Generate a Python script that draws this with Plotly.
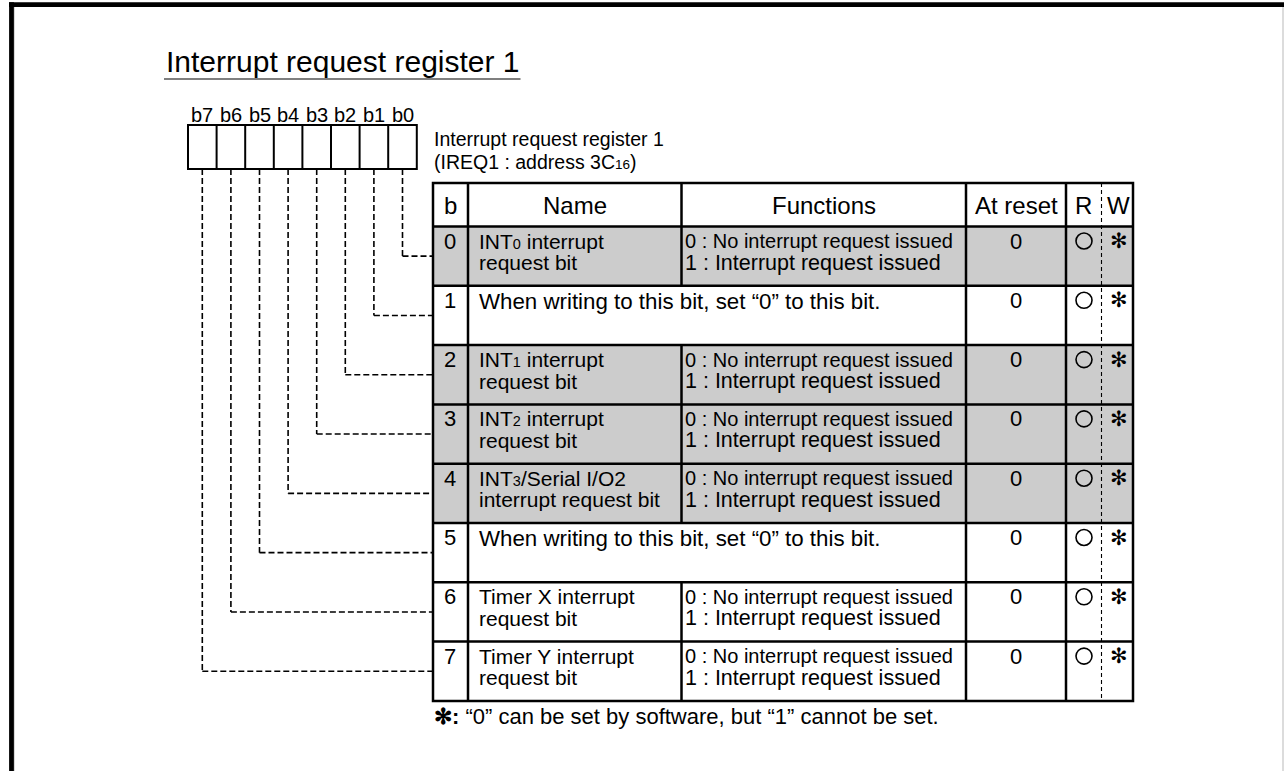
import plotly.graph_objects as go

# ---------------- data ----------------
title_text = "Interrupt request register 1"
bit_labels = ["b7", "b6", "b5", "b4", "b3", "b2", "b1", "b0"]
register_name = "Interrupt request register 1"
register_addr = "(IREQ1 : address 3C<span style='font-size:13.5px'>16</span>)"
headers = ["b", "Name", "Functions", "At reset", "R", "W"]

bits = [0, 1, 2, 3, 4, 5, 6, 7]
name_line1 = [
    "INT<span style='font-size:14.5px'>0</span> interrupt",
    None,
    "INT<span style='font-size:14.5px'>1</span> interrupt",
    "INT<span style='font-size:14.5px'>2</span> interrupt",
    "INT<span style='font-size:14.5px'>3</span>/Serial I/O2",
    None,
    "Timer X interrupt",
    "Timer Y interrupt",
]
name_line2 = ["request bit", None, "request bit", "request bit",
              "interrupt request bit", None, "request bit", "request bit"]
func_line1 = ["0 : No interrupt request issued", None,
              "0 : No interrupt request issued", "0 : No interrupt request issued",
              "0 : No interrupt request issued", None,
              "0 : No interrupt request issued", "0 : No interrupt request issued"]
func_line2 = ["1 : Interrupt request issued", None,
              "1 : Interrupt request issued", "1 : Interrupt request issued",
              "1 : Interrupt request issued", None,
              "1 : Interrupt request issued", "1 : Interrupt request issued"]
span_note = [None, "When writing to this bit, set \u201c0\u201d to this bit.", None, None,
             None, "When writing to this bit, set \u201c0\u201d to this bit.", None, None]
reset_values = ["0", "0", "0", "0", "0", "0", "0", "0"]
readable = [True] * 8
write_mark = ["\u273b"] * 8
shaded = [True, False, True, True, True, False, False, False]
footnote = "<b>\u273b:</b> \u201c0\u201d can be set by software, but \u201c1\u201d cannot be set."

# ---------------- layout geometry ----------------
W, H = 1284, 771
FONT = "Liberation Sans, Arial, Helvetica, sans-serif"
SYM_FONT = "DejaVu Sans"

col = [433, 468, 681.5, 966, 1066, 1133]
w_dash_x = 1101.5
head_top, head_bot = 183, 226.5
row_h = 59.3
row_top = [head_bot + i * row_h for i in range(9)]

box_left, box_top, box_bot = 188, 125, 169
cell_w = 28.6

shapes = []
annotations = []

def line(x0, y0, x1, y1, width=2, dash=None, color="black"):
    d = dict(type="line", x0=x0, y0=y0, x1=x1, y1=y1, xref="x", yref="y",
             line=dict(color=color, width=width))
    if dash:
        d["line"]["dash"] = dash
    shapes.append(d)

def text(x, y, s, size, anchor="left", font=FONT, color="black"):
    annotations.append(dict(x=x, y=y, xref="x", yref="y", text=s, showarrow=False,
                            xanchor=anchor, yanchor="middle",
                            font=dict(family=font, size=size, color=color)))

# page frame
line(9, 4.7, W, 4.7, width=4.8)
line(11.5, 2.3, 11.5, H, width=4.8)
line(14.5, 7, 14.5, H, width=1, color="#d8d8d8")
line(W - 1, 7, W - 1, H, width=1.5, color="#d0d0d0")

# title
text(164, 61, title_text, 30)
line(164, 79, 520.5, 79, width=1.2)

# register box
for i, lab in enumerate(bit_labels):
    cx = box_left + i * cell_w + cell_w / 2
    text(cx, 115, lab, 20, anchor="center")
shapes.append(dict(type="rect", x0=box_left, y0=box_top, x1=box_left + 8 * cell_w, y1=box_bot,
                   xref="x", yref="y", line=dict(color="black", width=2)))
for i in range(1, 8):
    line(box_left + i * cell_w, box_top, box_left + i * cell_w, box_bot, width=2)

text(432, 139, register_name, 19.5)
text(432, 161.5, register_addr, 19.5)

# shaded rows
for i, b in enumerate(bits):
    if shaded[i]:
        shapes.append(dict(type="rect", x0=col[0], y0=row_top[i], x1=col[-1], y1=row_top[i + 1],
                           xref="x", yref="y", fillcolor="#cccccc", line=dict(width=0),
                           layer="below"))

# connectors from each bit cell to its row
for i, b in enumerate(bits):
    cx = box_left + (7 - b) * cell_w + cell_w / 2
    ymid = (row_top[i] + row_top[i + 1]) / 2
    line(cx, box_bot, cx, ymid, width=1.6, dash="6px,3px")
    line(cx, ymid, col[0], ymid, width=1.6, dash="6px,3px")

# table grid
shapes.append(dict(type="rect", x0=col[0], y0=head_top, x1=col[-1], y1=row_top[-1],
                   xref="x", yref="y", line=dict(color="black", width=2.5)))
line(col[0], head_bot, col[-1], head_bot, width=2.5)
for r in range(1, 8):
    line(col[0], row_top[r], col[-1], row_top[r], width=2.5)
for c in (col[1], col[3], col[4]):
    line(c, head_top, c, row_top[-1], width=2.5)
line(col[2], head_top, col[2], head_bot, width=2.5)
for i in range(8):
    if span_note[i] is None:
        line(col[2], row_top[i], col[2], row_top[i + 1], width=2.5)
line(w_dash_x, head_top, w_dash_x, row_top[-1], width=1.1, dash="4px,3px")

# header texts
head_y = (head_top + head_bot) / 2 + 1
text((col[0] + col[1]) / 2, head_y, headers[0], 24, "center")
text((col[1] + col[2]) / 2, head_y, headers[1], 24, "center")
text((col[2] + col[3]) / 2, head_y, headers[2], 24, "center")
text((col[3] + col[4]) / 2 + 0.5, head_y, headers[3], 24, "center")
text(1083, head_y, headers[4], 24, "center")
text(1118, head_y, headers[5], 24, "center")

# rows
for i, b in enumerate(bits):
    top = row_top[i]
    y1 = top + 14.5
    y2 = top + 36
    text((col[0] + col[1]) / 2 - 1, y1, str(b), 22, "center")
    if span_note[i] is not None:
        text(col[1] + 9, y1 + 1, span_note[i], 22.3)
    else:
        text(col[1] + 9, y1, name_line1[i], 21)
        text(col[1] + 9, y2, name_line2[i], 21)
        text(col[2] + 1.5, y1, func_line1[i], 20)
        text(col[2] + 1.5, y2, func_line2[i], 21.5)
    text((col[3] + col[4]) / 2, y1, reset_values[i], 22, "center")
    if readable[i]:
        shapes.append(dict(type="circle", x0=1084 - 8, y0=y1 - 8, x1=1084 + 8, y1=y1 + 8,
                           xref="x", yref="y", line=dict(color="black", width=1.6)))
    text(1118.5, y1, write_mark[i], 21, "center", font=SYM_FONT)

text(432, 716, footnote, 22)

fig = go.Figure()
fig.update_layout(
    width=W, height=H, margin=dict(l=0, r=0, t=0, b=0),
    paper_bgcolor="white", plot_bgcolor="white",
    xaxis=dict(range=[0, W], visible=False, fixedrange=True),
    yaxis=dict(range=[H, 0], visible=False, fixedrange=True),
    shapes=shapes, annotations=annotations, showlegend=False,
)
fig.write_html("out.html", config={"displayModeBar": False},
               post_script="document.body.style.margin='0px';document.body.style.overflow='hidden';")
